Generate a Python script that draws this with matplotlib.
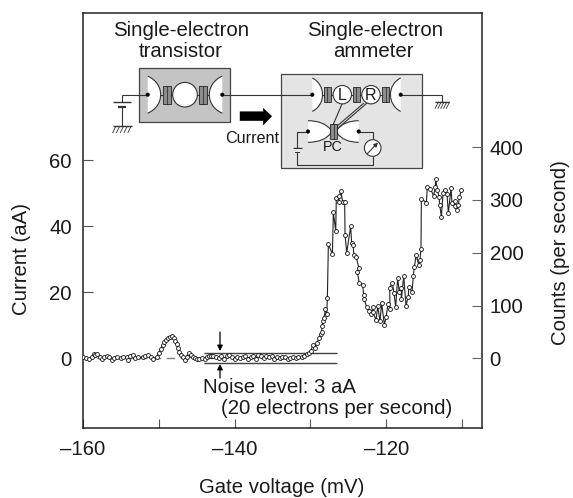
import matplotlib
matplotlib.use("Agg")
import matplotlib.pyplot as plt
from matplotlib.patches import Rectangle, Circle, Polygon, PathPatch
from matplotlib.path import Path

plt.rcParams['font.family'] = ['Liberation Sans', 'DejaVu Sans']

volt_left = [
 -159.96,-159.61,-159.17,-158.86,-158.6,-158.38,-158.11,-157.76,-157.5,-157.23,
 -156.79,-156.53,-156.13,-155.87,-155.47,-155.03,-154.68,-154.24,-154.07,-153.8,
 -153.45,-153.14,-152.7,-152.13,-151.82,-151.39,-150.99,-150.73,-150.29,-150.02,
 -149.76,-149.49,-149.27,-149.05,-148.79,-148.53,-148.26,-148.04,-147.91,-147.65,
 -147.47,-147.3,-147.08,-146.77,-146.5,-146.33,-146.06,-145.8,-145.53,-145.27,
 -145.01,-144.75,-144.35,-143.91,-143.69,-143.43,-143.16]
curr_left = [
 0.2,0.1,-0.3,0.2,1.1,0.9,1.2,0.4,-0.2,0.4,
 0.6,0.2,-0.5,-0.1,0.4,-0.1,0.2,0.4,-0.6,0.6,
 0.9,-0.1,0.2,0.2,0.6,0.8,0.2,-0.2,0.3,1.4,
 2.6,3.9,4.9,5.6,6.2,6.4,6.6,6.2,5.2,4.2,
 2.9,1.7,0.9,0.4,-0.6,0.4,1.6,0.8,0.2,-0.1,
 -0.2,-0.4,-0.1,-0.4,0.4,0.6,0.5]
volt_mid = [
 -142.8,-142.45,-142.1,-141.75,-141.4,-141.05,-140.7,-140.35,-140.0,-139.65,
 -139.3,-138.95,-138.6,-138.25,-137.9,-137.55,-137.2,-136.85,-136.5,-136.15,
 -135.8,-135.45,-135.1,-134.75,-134.4,-134.05,-133.7,-133.35,-133.0,-132.65,
 -132.3,-131.95,-131.6]
curr_mid = [
 0.5,0.3,0.1,0.6,-0.2,0.7,0.9,0.2,-0.2,0.4,
 -0.1,0.3,0.5,-0.2,0.2,0.7,-0.4,0.9,0.5,-0.1,
 0.6,0.3,0.5,-0.3,0.4,0.1,0.2,0.4,-0.2,0.1,
 0.3,0.0,0.4]
volt_right = [
 -131.15,-130.84,-130.49,-130.14,-129.92,-129.7,-129.39,-129.17,-128.82,-128.64,
 -128.51,-128.47,-128.34,-128.2,-128.03,-127.85,-127.76,-127.63,-127.1,-126.97,
 -126.66,-126.58,-126.27,-126.27,-126.0,-125.74,-125.48,-125.43,-125.21,-124.69,
 -124.55,-124.38,-124.25,-123.94,-123.63,-123.81,-123.54,-123.1,-122.97,-122.93,
 -122.58,-122.27,-122.0,-121.74,-121.74,-121.34,-121.12,-120.82,-120.6,-120.24,
 -120.02,-119.76,-119.5,-119.54,-119.19,-118.97,-118.75,-118.49,-118.27,-118.05,
 -118.0,-117.69,-117.39,-117.08,-117.03,-116.59,-116.42,-116.29,-116.02,-115.71,
 -115.54,-115.41,-115.36,-114.7,-114.57,-114.18,-113.74,-113.52,-113.47,-113.25,
 -113.03,-112.94,-112.72,-112.5,-112.24,-111.98,-111.8,-111.45,-111.32,-110.92,
 -110.88,-110.7,-110.48,-110.35,-110.09]
curr_right = [
 0.2,0.6,1.1,1.6,2.2,3.9,2.9,4.6,6.0,7.3,
 8.0,9.8,11.2,12.0,14.8,13.3,18.3,34.5,31.5,44.1,
 38.5,48.4,49.2,47.4,50.6,47.4,47.2,37.3,31.9,39.9,
 34.7,34.1,31.3,30.5,27.4,26.1,22.6,22.2,19.1,17.8,
 15.5,14.3,13.2,15.4,14.0,11.5,15.7,11.2,16.6,10.0,
 12.4,16.4,14.9,21.2,22.8,19.6,15.6,24.1,19.9,21.3,
 17.8,24.8,15.9,18.6,21.4,20.1,24.8,27.7,31.2,28.2,
 29.7,33.1,48.2,47.1,51.9,51.3,49.2,51.7,54.2,50.9,
 48.7,46.4,42.8,50.1,50.9,49.6,44.0,51.4,47.0,47.7,
 46.2,44.8,46.4,48.7,50.8]
voltage_mV = volt_left + volt_mid + volt_right
current_aA = curr_left + curr_mid + curr_right

x_ticks = [-160, -140, -120]
x_tick_labels = ['\u2013160', '\u2013140', '\u2013120']
x_minor = [-150, -130, -110]
left_ticks = [0, 20, 40, 60]
right_ticks = [0, 100, 200, 300, 400]

TXT = '#1a1a1a'
FS = 14.7
fig = plt.figure(figsize=(5.73, 4.98), dpi=100)
W, H = 573, 498
L, R, T, B = 83, 482, 13, 428
ax = fig.add_axes([L/W, 1-B/H, (R-L)/W, (B-T)/H])
ax.set_xlim(-160, -160+(R-L)/7.58)
ax.set_ylim((358-B)/3.3, (358-T)/3.3)
ax.plot([-160, -143], [0, 0], color='#808080', lw=1.0, ls=(0, (6, 4)), zorder=1)
ax.hlines([1.5, -1.4], -144.0, -126.45, color='#404040', lw=1.0, zorder=2)
ax.plot(voltage_mV, current_aA, color='#222222', lw=0.8, marker='o', ms=2.8, mfc='white', mec='#111111', mew=0.6, zorder=3)

ax.set_xticks(x_ticks)
ax.set_xticklabels(x_tick_labels)
ax.set_xticks(x_minor, minor=True)
ax.set_yticks(left_ticks)
ax.tick_params(axis='both', which='major', direction='in', width=0.8, labelsize=FS, color='#555555', labelcolor=TXT)
ax.tick_params(axis='x', which='minor', direction='in', length=6.5, width=0.8, color='#555555')
ax.tick_params(axis='x', which='major', length=6.5, pad=8.6)
ax.tick_params(axis='y', which='major', length=7.2, pad=8)
for s in ax.spines.values():
    s.set_linewidth(1.1)
    s.set_color('#222222')

ax2 = ax.twinx()
ax2.set_ylim((358.5-B)/0.5285, (358.5-T)/0.5285)
ax2.set_yticks(right_ticks)
ax2.tick_params(axis='y', direction='in', length=7.2, width=0.8, labelsize=FS, color='#666666', labelcolor=TXT, pad=5.5)
for s in ax2.spines.values():
    s.set_visible(False)

# Overlay in pixel space for the schematic and annotations
ov = fig.add_axes([0, 0, 1, 1], zorder=5)
ov.set_xlim(0, W); ov.set_ylim(H, 0); ov.axis('off'); ov.patch.set_alpha(0)
LC = '#333333'

ov.text(282, 487, 'Gate voltage (mV)', fontsize=FS, color=TXT, ha='center', va='center')
ov.text(21.7, 259, 'Current (aA)', fontsize=FS, color=TXT, ha='center', va='center', rotation=90)
ov.text(560, 253, 'Counts (per second)', fontsize=FS, color=TXT, ha='center', va='center', rotation=90)

def line(xs, ys, lw=0.8, c=LC):
    ov.plot(xs, ys, color=c, lw=lw, solid_capstyle='butt', zorder=6)

def dot(x, y):
    ov.add_patch(Circle((x, y), 1.8, fc='black', ec='black', lw=0.3, zorder=9))

def junction(x, y, w=8, h=18):
    ov.add_patch(Rectangle((x-w/2, y-h/2), w, h, fc='#8c8c8c', ec='#222222', lw=0.6, zorder=8))
    ov.plot([x, x], [y-h/2, y+h/2], color='#222222', lw=0.5, zorder=9)

def lead(x0, xtip, y, h):
    verts = [(x0, y-h), (xtip, y-h*0.6), (xtip, y+h*0.6), (x0, y+h)]
    p = Path(verts+[verts[0]], [Path.MOVETO, Path.CURVE4, Path.CURVE4, Path.CURVE4, Path.CLOSEPOLY])
    ov.add_patch(PathPatch(p, fc='white', ec='none', zorder=7))
    p2 = Path(verts, [Path.MOVETO, Path.CURVE4, Path.CURVE4, Path.CURVE4])
    ov.add_patch(PathPatch(p2, fc='none', ec=LC, lw=0.8, zorder=7))

def pc_lead(x0, xtip, y, h):
    sgn = 1 if xtip > x0 else -1
    a = x0 + sgn*abs(xtip-x0)*0.7
    pts = [(x0, y-h), (a, y-h), (xtip, y-1.5), (xtip, y+1.5), (a, y+h), (x0, y+h)]
    codes = [Path.MOVETO, Path.CURVE3, Path.CURVE3, Path.LINETO, Path.CURVE3, Path.CURVE3]
    p = Path(pts+[pts[0]], codes+[Path.CLOSEPOLY])
    ov.add_patch(PathPatch(p, fc='white', ec='none', zorder=7))
    ov.add_patch(PathPatch(Path(pts, codes), fc='none', ec=LC, lw=0.8, zorder=7))

def ground(x, y, w=16):
    line([x-w/2, x+w/2], [y, y], lw=1.0)
    for i in range(5):
        xx = x-w/2+i*w/5
        line([xx+3.5, xx], [y, y+7], lw=0.6)

def battery(x, y, w=9):
    line([x-w, x+w], [y, y], lw=1.0)
    line([x-w*0.45, x+w*0.45], [y+5, y+5], lw=1.6)

# boxes
ov.add_patch(Rectangle((139.3, 67.7), 91, 54.3, fc='#c4c4c4', ec='#444444', lw=0.9, zorder=5))
ov.add_patch(Rectangle((281.3, 74), 140.4, 93.7, fc='#e4e4e4', ec='#444444', lw=0.9, zorder=5))

yw = 94.7
line([121.7, 441.7], [yw, yw])
line([121.7, 121.7], [yw, 102.3]); battery(121.7, 102.3)
line([121.7, 121.7], [107.3, 126]); ground(122, 126, w=19)
line([441.7, 441.7], [yw, 101.7]); ground(442, 101.7, w=14)

# transistor
lead(147.7, 165, yw, 18.5); lead(222.3, 205, yw, 18.5)
junction(167, yw, 8, 18); junction(202.7, yw, 8, 18)
ov.add_patch(Circle((185, yw), 12.3, fc='white', ec=LC, lw=0.8, zorder=8))
dot(147.7, yw); dot(222.3, yw)

# arrow
ov.add_patch(Polygon([(240, 111.7), (263.3, 111.7), (263.3, 108.3), (271.7, 116.2), (263.3, 125), (263.3, 120.7), (240, 120.7)],
                     fc='black', ec='black', lw=0.3, zorder=6))
ov.text(251.7, 138.3, 'Current', fontsize=11.6, color=TXT, ha='center', va='center', zorder=10)

# ammeter
lead(312.3, 326, yw, 16.7); lead(400.7, 387, yw, 16.7)
for xj in (327.3, 356.3, 385.7):
    junction(xj, yw, 6.7, 15)
for xc, lab in ((342.3, 'L'), (371, 'R')):
    ov.add_patch(Circle((xc, yw), 9.2, fc='white', ec=LC, lw=0.8, zorder=8))
    ov.text(xc, yw+0.3, lab, fontsize=11.5, color=TXT, ha='center', va='center', zorder=10)
dot(312.3, yw); dot(400.7, yw)
line([342, 333], [104, 125]); line([364, 336], [103, 127]); line([367, 337], [103, 129])

# point contact
ypc = 131.5
pc_lead(308, 331, ypc, 10.8); pc_lead(358.7, 337, ypc, 10.8)
junction(333.7, ypc, 6.7, 15.3)
ov.text(333.3, 146.7, 'PC', fontsize=10.4, color=TXT, ha='center', va='center', zorder=10)
dot(308, ypc); dot(358.7, ypc)
line([308, 297.3, 297.3, 372.7, 372.7], [ypc, ypc, 164.7, 164.7, 156])
ov.add_patch(Rectangle((293, 149), 9, 3, fc='#e4e4e4', ec='none', zorder=6.5))
line([292.5, 302], [148, 148], lw=1.0)
line([295, 300], [152, 152], lw=1.4)
line([358.7, 372.7, 372.7], [ypc, ypc, 140])
ov.add_patch(Circle((372.7, 148), 8.3, fc='white', ec=LC, lw=0.8, zorder=8))
ov.annotate('', xy=(378, 142.5), xytext=(367.5, 153.5), zorder=10,
            arrowprops=dict(arrowstyle='-|>', lw=0.8, color=LC, mutation_scale=6, shrinkA=0, shrinkB=0))

# titles
ov.text(181, 30, 'Single-electron', fontsize=FS, color=TXT, ha='center', va='center')
ov.text(181, 51.5, 'transistor', fontsize=FS, color=TXT, ha='center', va='center')
ov.text(375, 30, 'Single-electron', fontsize=FS, color=TXT, ha='center', va='center')
ov.text(373, 51.5, 'ammeter', fontsize=FS, color=TXT, ha='center', va='center')

# noise annotations
ov.annotate('', xy=(220, 351), xytext=(220, 332), arrowprops=dict(arrowstyle='-|>', lw=0.9, color='black', mutation_scale=8, shrinkA=0, shrinkB=0))
ov.annotate('', xy=(220, 364), xytext=(220, 378), arrowprops=dict(arrowstyle='-|>', lw=0.9, color='black', mutation_scale=8, shrinkA=0, shrinkB=0))
ov.text(203, 387.3, 'Noise level: 3 aA', fontsize=FS, color=TXT, ha='left', va='center')
ov.text(220.7, 408, '(20 electrons per second)', fontsize=FS, color=TXT, ha='left', va='center')

fig.savefig('out.png', dpi=100)
